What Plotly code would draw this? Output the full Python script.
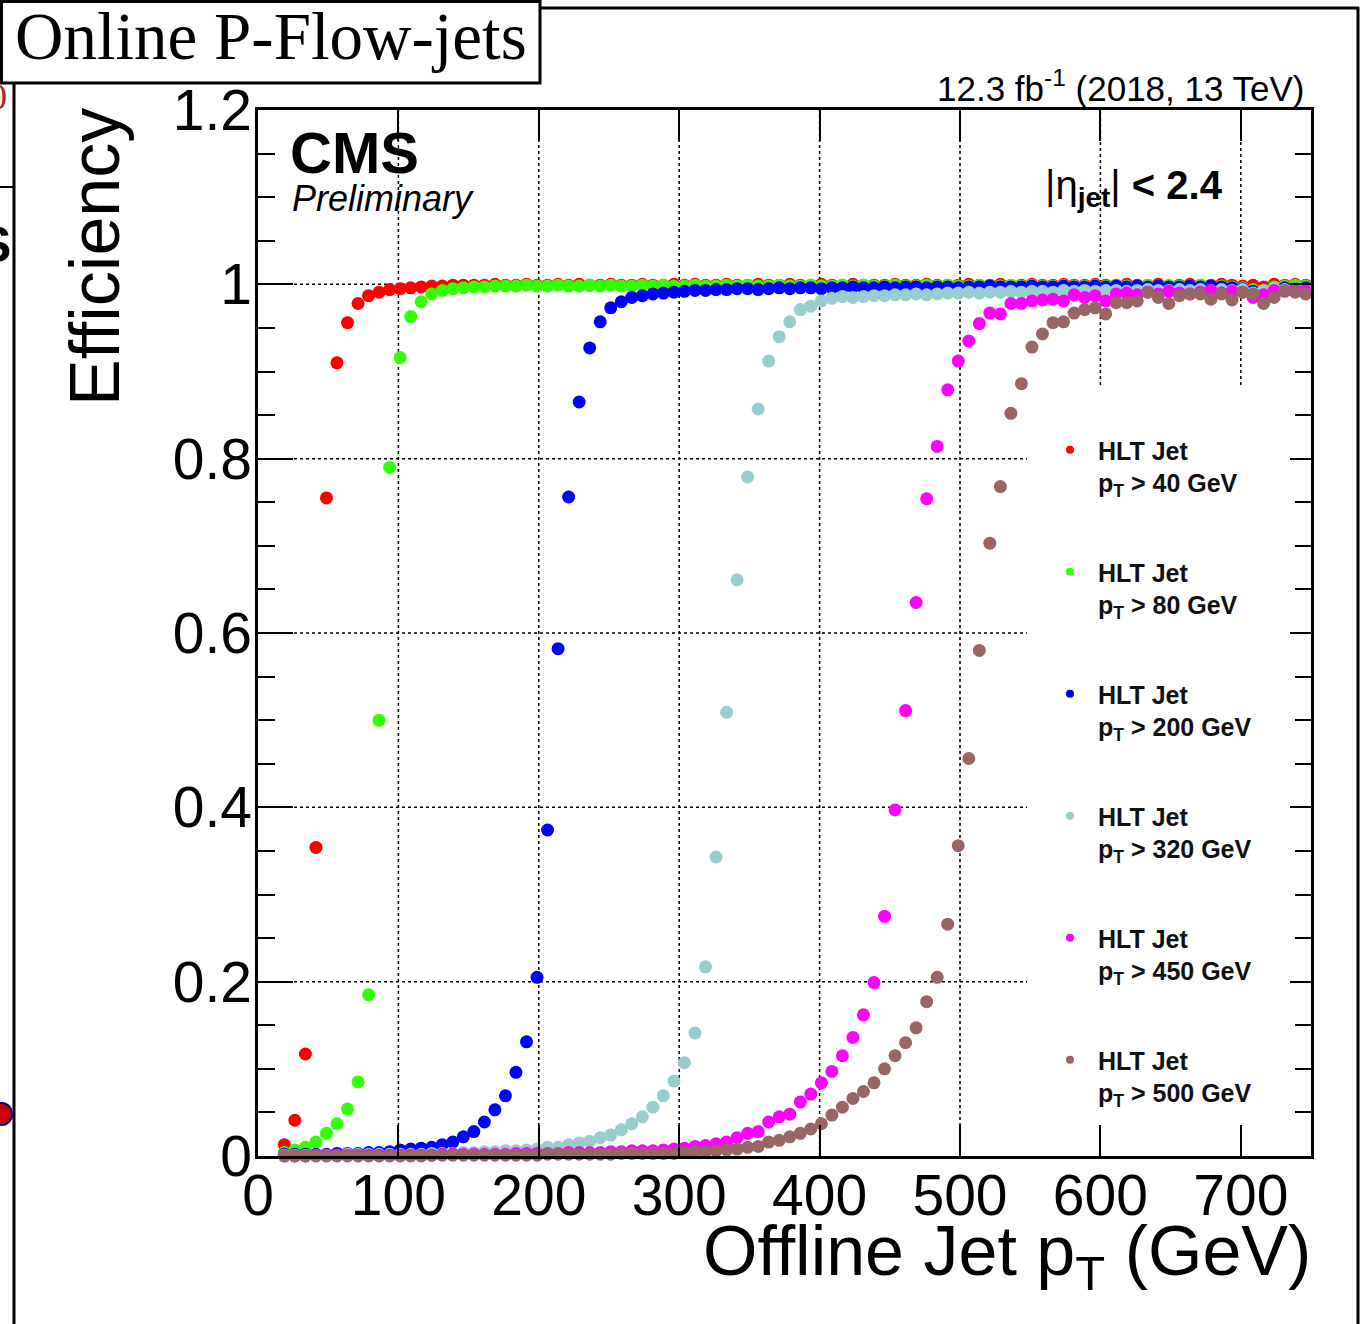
import plotly.graph_objects as go

# ---------------- data ----------------
PT_BIN_CENTERS = [
    18.75, 26.25, 33.75, 41.25, 48.75, 56.25, 63.75, 71.25, 78.75, 86.25,
    93.75, 101.25, 108.75, 116.25, 123.75, 131.25, 138.75, 146.25, 153.75, 161.25,
    168.75, 176.25, 183.75, 191.25, 198.75, 206.25, 213.75, 221.25, 228.75, 236.25,
    243.75, 251.25, 258.75, 266.25, 273.75, 281.25, 288.75, 296.25, 303.75, 311.25,
    318.75, 326.25, 333.75, 341.25, 348.75, 356.25, 363.75, 371.25, 378.75, 386.25,
    393.75, 401.25, 408.75, 416.25, 423.75, 431.25, 438.75, 446.25, 453.75, 461.25,
    468.75, 476.25, 483.75, 491.25, 498.75, 506.25, 513.75, 521.25, 528.75, 536.25,
    543.75, 551.25, 558.75, 566.25, 573.75, 581.25, 588.75, 596.25, 603.75, 611.25,
    618.75, 626.25, 633.75, 641.25, 648.75, 656.25, 663.75, 671.25, 678.75, 686.25,
    693.75, 701.25, 708.75, 716.25, 723.75, 731.25, 738.75, 746.25,
]
BIN_HALF_WIDTH = 3.75

EFF_PT40 = [
    0.013, 0.041, 0.117, 0.354, 0.755, 0.910, 0.956, 0.978, 0.987, 0.991,
    0.994, 0.995, 0.996, 0.997, 0.998, 0.998, 0.999, 0.999, 0.999, 0.999,
    1.000, 0.999, 0.999, 1.000, 0.999, 0.999, 1.000, 0.999, 1.000, 0.999,
    0.999, 1.000, 0.999, 0.999, 1.000, 0.999, 0.999, 1.000, 0.999, 1.000,
    0.999, 0.999, 1.000, 0.999, 0.999, 1.000, 0.999, 0.999, 1.000, 0.999,
    0.999, 1.000, 0.999, 0.999, 1.000, 0.999, 0.999, 0.999, 1.000, 0.999,
    0.999, 1.000, 0.999, 0.999, 0.999, 1.000, 0.999, 0.999, 1.000, 0.999,
    0.999, 1.000, 0.999, 0.999, 1.000, 0.999, 0.999, 1.000, 0.999, 0.999,
    1.000, 0.999, 0.999, 1.000, 0.998, 0.999, 1.000, 0.999, 0.999, 1.000,
    0.999, 0.998, 0.999, 0.997, 1.000, 0.999, 1.000, 0.999,
]
EFF_PT80 = [
    0.004, 0.007, 0.010, 0.016, 0.026, 0.037, 0.054, 0.085, 0.185, 0.500,
    0.790, 0.916, 0.963, 0.980, 0.989, 0.993, 0.995, 0.996, 0.997, 0.997,
    0.998, 0.998, 0.998, 0.999, 0.998, 0.998, 0.999, 0.998, 0.998, 0.999,
    0.998, 0.999, 0.998, 0.998, 0.999, 0.998, 0.999, 0.998, 0.998, 0.999,
    0.998, 0.998, 0.999, 0.998, 0.999, 0.998, 0.998, 0.999, 0.998, 0.998,
    0.999, 0.998, 0.998, 0.999, 0.998, 0.999, 0.998, 0.998, 0.999, 0.998,
    0.998, 0.999, 0.998, 0.999, 0.998, 0.998, 0.999, 0.998, 0.998, 0.999,
    0.998, 0.999, 0.998, 0.998, 0.999, 0.998, 0.998, 0.999, 0.998, 0.999,
    0.998, 0.998, 0.999, 0.998, 0.999, 0.998, 0.998, 0.999, 0.998, 0.998,
    0.997, 0.996, 0.994, 0.993, 0.997, 0.998, 0.999, 0.998,
]
EFF_PT200 = [
    0.002, 0.002, 0.002, 0.002, 0.002, 0.003, 0.003, 0.003, 0.004, 0.004,
    0.005, 0.007, 0.008, 0.009, 0.010, 0.013, 0.016, 0.022, 0.028, 0.039,
    0.053, 0.069, 0.096, 0.131, 0.205, 0.374, 0.582, 0.756, 0.865, 0.927,
    0.957, 0.973, 0.980, 0.985, 0.987, 0.989, 0.990, 0.991, 0.992, 0.993,
    0.993, 0.994, 0.994, 0.995, 0.995, 0.994, 0.995, 0.996, 0.995, 0.996,
    0.996, 0.995, 0.996, 0.996, 0.997, 0.996, 0.996, 0.997, 0.996, 0.997,
    0.997, 0.996, 0.997, 0.997, 0.996, 0.997, 0.997, 0.998, 0.997, 0.997,
    0.997, 0.998, 0.997, 0.997, 0.998, 0.997, 0.997, 0.998, 0.997, 0.998,
    0.997, 0.998, 0.997, 0.998, 0.997, 0.997, 0.998, 0.997, 0.998, 0.997,
    0.996, 0.995, 0.992, 0.990, 0.994, 0.996, 0.995, 0.996,
]
EFF_PT320 = [
    0.001, 0.001, 0.001, 0.001, 0.001, 0.001, 0.002, 0.002, 0.002, 0.002,
    0.002, 0.002, 0.002, 0.002, 0.003, 0.003, 0.003, 0.004, 0.004, 0.005,
    0.005, 0.006, 0.006, 0.007, 0.008, 0.010, 0.010, 0.013, 0.015, 0.017,
    0.021, 0.024, 0.030, 0.037, 0.045, 0.056, 0.069, 0.086, 0.107, 0.141,
    0.217, 0.343, 0.509, 0.661, 0.779, 0.857, 0.912, 0.940, 0.957, 0.971,
    0.975, 0.981, 0.984, 0.986, 0.985, 0.986, 0.987, 0.987, 0.988, 0.988,
    0.989, 0.988, 0.989, 0.990, 0.990, 0.991, 0.990, 0.991, 0.991, 0.992,
    0.991, 0.992, 0.992, 0.991, 0.993, 0.992, 0.993, 0.992, 0.993, 0.993,
    0.992, 0.993, 0.994, 0.993, 0.993, 0.994, 0.993, 0.994, 0.993, 0.994,
    0.993, 0.994, 0.990, 0.993, 0.995, 0.994, 0.995, 0.994,
]
EFF_PT450 = [
    0.000, 0.000, 0.000, 0.001, 0.001, 0.001, 0.001, 0.001, 0.001, 0.001,
    0.001, 0.001, 0.001, 0.001, 0.001, 0.002, 0.002, 0.002, 0.002, 0.002,
    0.002, 0.002, 0.003, 0.003, 0.003, 0.003, 0.003, 0.004, 0.004, 0.004,
    0.004, 0.005, 0.005, 0.006, 0.006, 0.006, 0.007, 0.008, 0.009, 0.011,
    0.012, 0.014, 0.016, 0.021, 0.026, 0.028, 0.039, 0.045, 0.048, 0.062,
    0.071, 0.084, 0.097, 0.115, 0.136, 0.162, 0.199, 0.275, 0.397, 0.511,
    0.635, 0.754, 0.814, 0.879, 0.912, 0.935, 0.955, 0.967, 0.966, 0.978,
    0.978, 0.981, 0.982, 0.983, 0.981, 0.988, 0.985, 0.987, 0.981, 0.989,
    0.990, 0.988, 0.991, 0.989, 0.992, 0.990, 0.989, 0.991, 0.993, 0.990,
    0.992, 0.991, 0.985, 0.988, 0.993, 0.992, 0.994, 0.993,
]
EFF_PT500 = [
    0.000, 0.000, 0.000, 0.000, 0.000, 0.000, 0.000, 0.000, 0.000, 0.000,
    0.000, 0.000, 0.000, 0.000, 0.001, 0.001, 0.001, 0.001, 0.001, 0.001,
    0.001, 0.001, 0.001, 0.001, 0.001, 0.002, 0.002, 0.002, 0.002, 0.002,
    0.002, 0.002, 0.003, 0.003, 0.003, 0.003, 0.003, 0.003, 0.004, 0.005,
    0.005, 0.006, 0.007, 0.008, 0.010, 0.011, 0.016, 0.018, 0.022, 0.026,
    0.031, 0.037, 0.047, 0.056, 0.066, 0.074, 0.084, 0.100, 0.115, 0.130,
    0.147, 0.177, 0.205, 0.266, 0.356, 0.456, 0.580, 0.703, 0.768, 0.852,
    0.886, 0.928, 0.943, 0.956, 0.957, 0.967, 0.971, 0.973, 0.966, 0.979,
    0.979, 0.981, 0.991, 0.985, 0.978, 0.987, 0.989, 0.989, 0.983, 0.989,
    0.982, 0.991, 0.989, 0.978, 0.985, 0.993, 0.991, 0.989,
]

SERIES_LABELS = [
    "HLT Jet<br>p<sub>T</sub> &gt; 40 GeV",
    "HLT Jet<br>p<sub>T</sub> &gt; 80 GeV",
    "HLT Jet<br>p<sub>T</sub> &gt; 200 GeV",
    "HLT Jet<br>p<sub>T</sub> &gt; 320 GeV",
    "HLT Jet<br>p<sub>T</sub> &gt; 450 GeV",
    "HLT Jet<br>p<sub>T</sub> &gt; 500 GeV",
]
SERIES_VALUES = [EFF_PT40, EFF_PT80, EFF_PT200, EFF_PT320, EFF_PT450, EFF_PT500]
SERIES_COLORS = ["#FF0000", "#33FF00", "#0000FF", "#99CCCC", "#FF00FF", "#996666"]

X_TICKS = [0, 100, 200, 300, 400, 500, 600, 700]
Y_TICKS = [0, 0.2, 0.4, 0.6, 0.8, 1.0, 1.2]
Y_TICK_TEXT = ["0", "0.2", "0.4", "0.6", "0.8", "1", "1.2"]

# ---------------- layout geometry (pixels) ----------------
W, H = 1366, 1324
L, R, T, B = 258, 1311, 110, 1156
SANS = "Liberation Sans, Arial, Helvetica, sans-serif"
SERIF = "Liberation Serif, Times New Roman, serif"


def px2x(px):
    return (px - L) / (R - L)


def py2y(py):
    return (B - py) / (B - T)


fig = go.Figure()

for vals, col in zip(SERIES_VALUES, SERIES_COLORS):
    fig.add_trace(go.Scatter(
        x=PT_BIN_CENTERS, y=vals, mode="markers",
        marker=dict(symbol="circle", size=13, color=col, line=dict(width=0)),
        error_x=dict(type="constant", value=BIN_HALF_WIDTH, width=0,
                     thickness=1.2, color=col),
        cliponaxis=False, showlegend=False, hoverinfo="x+y",
    ))

# legend entries (small markers, as in the reference legend)
for i, (lab, col) in enumerate(zip(SERIES_LABELS, SERIES_COLORS)):
    fig.add_trace(go.Scatter(
        x=[None], y=[None], mode="markers", name="<b>" + lab + "</b>",
        marker=dict(symbol="circle", size=8, color=col),
        legendgroup="g%d" % i, showlegend=True,
    ))

# dummy traces so the auxiliary axes (right ticks, tick labels) are drawn
fig.add_trace(go.Scatter(x=[None], y=[None], yaxis="y2", showlegend=False,
                         hoverinfo="skip"))
fig.add_trace(go.Scatter(x=[None], y=[None], xaxis="x2", yaxis="y3",
                         showlegend=False, hoverinfo="skip"))

# ---------------- grid (dotted), interrupted by the legend box ----------------
LEG_LEFT_PX, LEG_TOP_PX = 1027, 385
shapes = []
for xv in X_TICKS[1:]:
    ytop = 1.2
    ybot = 0.0 if xv < 550 else (B - LEG_TOP_PX) / (B - T) * 1.2
    shapes.append(dict(type="line", xref="x", yref="y", x0=xv, x1=xv,
                       y0=ybot, y1=ytop, layer="below",
                       line=dict(color="black", width=1.5, dash="dot")))
for yv in Y_TICKS[1:-1]:
    xr = 1.0 if yv > 0.9 else px2x(LEG_LEFT_PX)
    shapes.append(dict(type="line", xref="paper", yref="y", x0=0, x1=xr,
                       y0=yv, y1=yv, layer="below",
                       line=dict(color="black", width=1.5, dash="dot")))

# ---------------- outer frame pieces ----------------
frame = dict(color="black", width=3)
shapes += [
    dict(type="line", xref="paper", yref="paper", x0=px2x(538), x1=px2x(1359),
         y0=py2y(8), y1=py2y(8), line=frame),
    dict(type="line", xref="paper", yref="paper", x0=px2x(1358), x1=px2x(1358),
         y0=py2y(7), y1=py2y(1324), line=frame),
    dict(type="line", xref="paper", yref="paper", x0=px2x(14), x1=px2x(14),
         y0=py2y(83), y1=py2y(1324), line=frame),
    dict(type="line", xref="paper", yref="paper", x0=px2x(0), x1=px2x(14),
         y0=py2y(187), y1=py2y(187), line=dict(color="black", width=2)),
    dict(type="rect", xref="paper", yref="paper", x0=px2x(1.5), x1=px2x(540),
         y0=py2y(1.5), y1=py2y(83), line=frame, fillcolor="white"),
    dict(type="circle", xref="paper", yref="paper", x0=px2x(-8), x1=px2x(12),
         y0=py2y(1103), y1=py2y(1125), line=dict(color="#00008B", width=2),
         fillcolor="#CC0000"),
]

annotations = [
    dict(text="Online P-Flow-jets", xref="paper", yref="paper",
         x=px2x(13), y=py2y(36), xanchor="left", yanchor="middle",
         showarrow=False, font=dict(family=SERIF, size=67, color="black")),
    dict(text="Efficiency", xref="paper", yref="paper", textangle=-90,
         x=px2x(95), y=py2y(106), xanchor="center", yanchor="top",
         showarrow=False, font=dict(family=SANS, size=70, color="black")),
    dict(text="Offline Jet p<sub>T</sub> (GeV)", xref="paper", yref="paper",
         x=px2x(1313), y=py2y(1210), xanchor="right", yanchor="top",
         showarrow=False, font=dict(family=SANS, size=70, color="black")),
    dict(text="<b>CMS</b>", xref="paper", yref="paper",
         x=px2x(288), y=py2y(118), xanchor="left", yanchor="top",
         showarrow=False, font=dict(family=SANS, size=58, color="black")),
    dict(text="<i>Preliminary</i>", xref="paper", yref="paper",
         x=px2x(290), y=py2y(198), xanchor="left", yanchor="middle",
         showarrow=False, font=dict(family=SANS, size=36, color="black")),
    dict(text="12.3 fb<sup>-1</sup> (2018, 13 TeV)", xref="paper", yref="paper",
         x=px2x(1307), y=py2y(86), xanchor="right", yanchor="middle",
         showarrow=False, font=dict(family=SANS, size=35, color="black")),
    dict(text="|η<sub><b>jet</b></sub>| <b>&lt; 2.4</b>", xref="paper", yref="paper",
         x=px2x(1043), y=py2y(188), xanchor="left", yanchor="middle",
         showarrow=False, font=dict(family=SANS, size=40, color="black")),
    dict(text="<b>S</b>", xref="paper", yref="paper",
         x=px2x(13), y=py2y(245), xanchor="right", yanchor="middle",
         showarrow=False, font=dict(family=SANS, size=50, color="black")),
    dict(text="0", xref="paper", yref="paper",
         x=px2x(9), y=py2y(97), xanchor="right", yanchor="middle",
         showarrow=False, font=dict(family=SERIF, size=36, color="#B22222")),
]

TICKFONT = dict(family=SANS, size=57, color="black")

fig.update_layout(
    width=W, height=H, autosize=False,
    margin=dict(l=L, r=W - R, t=T, b=H - B, pad=0),
    paper_bgcolor="white", plot_bgcolor="white",
    font=dict(family=SANS, color="black"),
    xaxis=dict(
        range=[0, 750], tickvals=X_TICKS, ticks="inside", ticklen=31,
        tickwidth=1.5, tickcolor="black", showline=True, linewidth=2.5,
        linecolor="black", mirror="ticks", showgrid=False, zeroline=False,
        showticklabels=False,
    ),
    # x tick labels
    xaxis2=dict(
        range=[0, 750], tickvals=X_TICKS, overlaying="x", side="bottom",
        anchor="free", position=0, ticks="", showline=False,
        showgrid=False, zeroline=False, tickfont=TICKFONT,
        ticklabelstandoff=1,
    ),
    yaxis=dict(
        range=[0, 1.2], tickvals=Y_TICKS,
        ticks="inside", ticklen=35, tickwidth=1.5, tickcolor="black",
        minor=dict(ticks="inside", ticklen=17, dtick=0.05, tick0=0,
                   tickwidth=1.5, tickcolor="black", showgrid=False),
        showline=True, linewidth=2.5, linecolor="black", mirror=True,
        showgrid=False, zeroline=False, showticklabels=False,
    ),
    yaxis2=dict(
        range=[0, 1.2], overlaying="y", side="right", tickvals=Y_TICKS,
        ticks="inside", ticklen=21, tickwidth=1.5, tickcolor="black",
        minor=dict(ticks="inside", ticklen=16, dtick=0.05, tick0=0,
                   tickwidth=1.5, tickcolor="black", showgrid=False),
        showticklabels=False, showgrid=False, zeroline=False, showline=False,
    ),
    # y tick labels
    yaxis3=dict(
        range=[0, 1.2], overlaying="y", side="left", anchor="free",
        position=0, tickvals=Y_TICKS, ticktext=Y_TICK_TEXT,
        ticks="", showline=False, showgrid=False, zeroline=False,
        tickfont=TICKFONT, ticklabelstandoff=6,
    ),
    legend=dict(
        x=px2x(1042), y=py2y(427), xanchor="left", yanchor="top",
        bgcolor="rgba(0,0,0,0)", borderwidth=0, traceorder="grouped",
        tracegroupgap=54, itemwidth=46, valign="top",
        font=dict(family=SANS, size=25, color="#111111"),
    ),
    shapes=shapes, annotations=annotations,
)

fig.write_html("out.html")
